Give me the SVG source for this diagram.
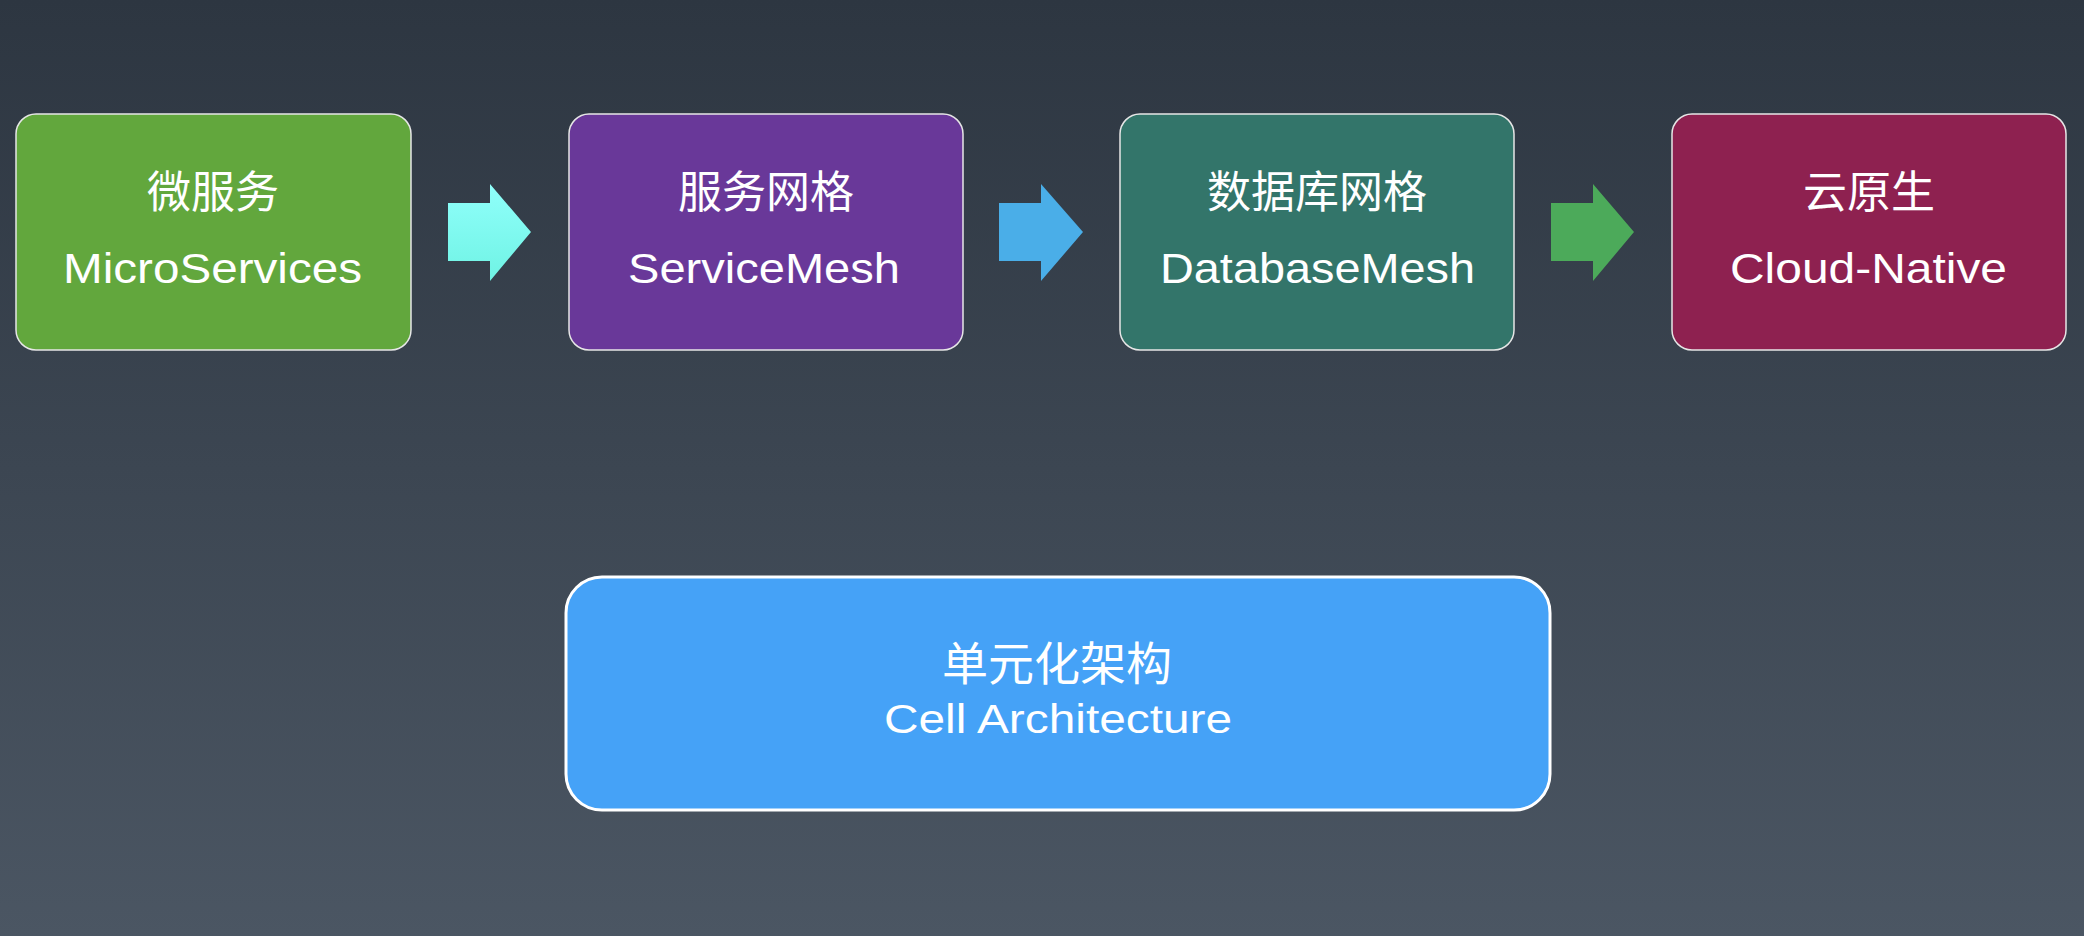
<svg xmlns="http://www.w3.org/2000/svg" width="2084" height="936" viewBox="0 0 2084 936">
<defs>
<linearGradient id="bg" x1="0" y1="0" x2="0" y2="1">
<stop offset="0" stop-color="#2d3641"/>
<stop offset="1" stop-color="#4b5663"/>
</linearGradient>
<linearGradient id="cyan" x1="0" y1="0" x2="0" y2="1">
<stop offset="0" stop-color="#90fffb"/>
<stop offset="1" stop-color="#6ff3e4"/>
</linearGradient>
<style>
.box{stroke:#e6e6e6;stroke-width:1.5}
.big{stroke:#ffffff;stroke-width:3}
.zh{font-family:"Noto Sans CJK SC","Noto Sans CJK TC",sans-serif;font-weight:400;fill:#ffffff;text-anchor:middle}
.en{font-family:"Liberation Sans",Arial,sans-serif;fill:#ffffff}
</style>
</defs>
<rect x="0" y="0" width="2084" height="936" fill="url(#bg)"/>
<g id="connectors">
<polygon points="448,203 490,203 490,184 531,232 490,281 490,261 448,261" fill="url(#cyan)"/>
<polygon points="999,203 1041,203 1041,184 1083,232 1041,281 1041,261 999,261" fill="#4aaee8"/>
<polygon points="1551,203 1593,203 1593,184 1634,232 1593,281 1593,261 1551,261" fill="#4caa5a"/>
</g>
<g id="microservices">
<rect class="box" x="16" y="114" width="395" height="236" rx="20" fill="#62a73d"/>
<text class="zh" x="213" y="208" font-size="44">微服务</text>
<text class="en" x="63" y="283" font-size="42" textLength="299" lengthAdjust="spacingAndGlyphs">MicroServices</text>
</g>
<g id="servicemesh">
<rect class="box" x="569" y="114" width="394" height="236" rx="20" fill="#693899"/>
<text class="zh" x="766" y="208" font-size="44">服务网格</text>
<text class="en" x="628" y="283" font-size="42" textLength="272" lengthAdjust="spacingAndGlyphs">ServiceMesh</text>
</g>
<g id="databasemesh">
<rect class="box" x="1120" y="114" width="394" height="236" rx="20" fill="#33756a"/>
<text class="zh" x="1317" y="208" font-size="44">数据库网格</text>
<text class="en" x="1160" y="283" font-size="42" textLength="315" lengthAdjust="spacingAndGlyphs">DatabaseMesh</text>
</g>
<g id="cloudnative">
<rect class="box" x="1672" y="114" width="394" height="236" rx="20" fill="#8e2150"/>
<text class="zh" x="1869" y="208" font-size="44">云原生</text>
<text class="en" x="1730" y="283" font-size="42" textLength="277" lengthAdjust="spacingAndGlyphs">Cloud-Native</text>
</g>
<g id="cell">
<rect class="big" x="566" y="577" width="984" height="233" rx="36" fill="#45a2f7"/>
<text class="zh" x="1057" y="680" font-size="46">单元化架构</text>
<text class="en" x="884" y="733" font-size="40" textLength="348" lengthAdjust="spacingAndGlyphs">Cell Architecture</text>
</g>
</svg>
